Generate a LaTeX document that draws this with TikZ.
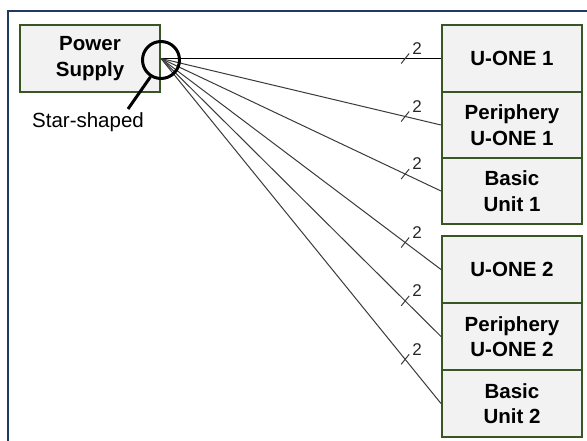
\documentclass[tikz,border=0pt]{standalone}
\usepackage{fontspec}
\setmainfont{Liberation Sans}
\usetikzlibrary{calc}
\definecolor{boxgreen}{HTML}{375623}
\definecolor{boxfill}{HTML}{F2F2F2}
\definecolor{navyframe}{HTML}{1F3864}
\definecolor{wirecol}{HTML}{3A3A3A}
\begin{document}
\begin{tikzpicture}[x=1pt,y=-1pt,
  unit/.style={draw=boxgreen, fill=boxfill, line width=2pt, minimum width=140pt,
    inner sep=0pt, align=center, font=\fontsize{20.5}{25.5}\selectfont\bfseries},
  wire/.style={draw=wirecol, line width=1pt},
  tickmark/.style={draw=wirecol, line width=1pt},
  ticklabel/.style={font=\fontsize{17}{19}\selectfont, inner sep=0pt, text=black!85}]
\useasboundingbox (0,0) rectangle (587,441);
% outer frame (cut by the picture edge)
\draw[navyframe, line width=2.5pt] (8,450) -- (8,11) -- (595,11);
% boxes
\node[unit, minimum height=67pt] (ps) at (90,58.5) {Power\\Supply};
\node[unit, minimum height=67pt] (u1) at (512,58.5) {U-ONE 1};
\node[unit, minimum height=66pt] (p1) at (512,125) {Periphery\\U-ONE 1};
\node[unit, minimum height=66pt] (b1) at (512,191) {Basic\\Unit 1};
\node[unit, minimum height=67pt] (u2) at (512,269.5) {U-ONE 2};
\node[unit, minimum height=67pt] (p2) at (512,336.5) {Periphery\\U-ONE 2};
\node[unit, minimum height=67pt] (b2) at (512,403.5) {Basic\\Unit 2};
% wires
\draw[wire, draw=black] (ps.east) -- coordinate[pos=0.872] (t1) (u1.west);
\draw[wire] (ps.east) -- coordinate[pos=0.872] (t2) (p1.west);
\draw[wire] (ps.east) -- coordinate[pos=0.872] (t3) (b1.west);
\draw[wire] (ps.east) -- coordinate[pos=0.872] (t4) (u2.west);
\draw[wire] (ps.east) -- coordinate[pos=0.872] (t5) (p2.west);
\draw[wire] (ps.east) -- coordinate[pos=0.872] (t6) (b2.west);
\foreach \t in {t1,t2,t3,t4,t5,t6}{
  \draw[tickmark] ($(\t)+(-4,5)$) -- ($(\t)+(4,-5)$);
  \node[ticklabel] (lbl\t) at ($(\t)+(12,-10)$) {2};
}
% star-shaped marker
\node[circle, draw=black, line width=3pt, minimum size=37pt, inner sep=0pt] (star) at (161,60) {};
\coordinate (leadend) at (128,109);
\draw[black, line width=3pt] (star.238) -- (leadend);
\node[font=\fontsize{20.5}{24}\selectfont, inner sep=0pt] (starlbl) at (88,122) {Star-shaped};
\end{tikzpicture}
\end{document}
